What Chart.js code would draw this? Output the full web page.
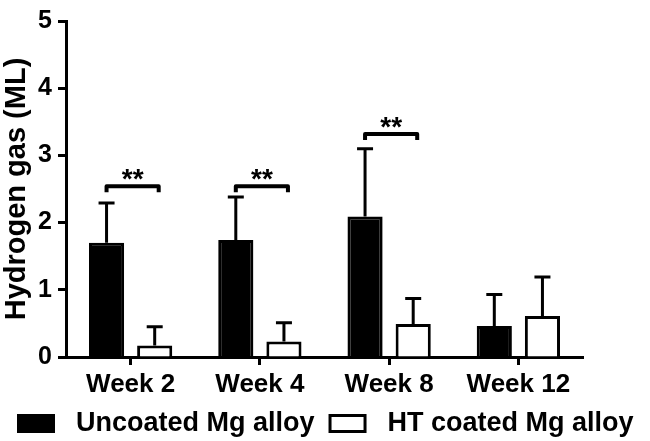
<!DOCTYPE html>
<html>
<head>
<meta charset="utf-8">
<script src="https://cdn.jsdelivr.net/npm/chart.js@4"></script>
<style>
  html, body { margin: 0; padding: 0; background: #fff; }
  #wrap { width: 650px; height: 441px; }
</style>
</head>
<body>
<div id="wrap"><canvas id="chart" width="650" height="441"></canvas></div>
<script>
// data
const weeks = ["Week 2", "Week 4", "Week 8", "Week 12"];
const uncoated = [1.70, 1.74, 2.09, 0.46];
const uncoatedSD = [0.59, 0.64, 1.01, 0.47];
const coated = [0.17, 0.23, 0.49, 0.61];
const coatedSD = [0.28, 0.28, 0.38, 0.58];
const yTicks = [0, 1, 2, 3, 4, 5];
// significance brackets: category index, height (ML), label
const sigIndex = [0, 1, 2];
const sigHeight = [2.54, 2.54, 3.32];
const sigLabel = ["**", "**", "**"];

const FONT = "'Liberation Sans', Arial, sans-serif";

// draws the SD whiskers (upper only) on top of each bar
const errorBars = {
  id: "errorBars",
  afterDatasetsDraw(chart) {
    const ctx = chart.ctx;
    const y = chart.scales.y;
    const sds = [uncoatedSD, coatedSD];
    ctx.save();
    ctx.strokeStyle = "#000";
    ctx.lineWidth = 3;
    chart.data.datasets.forEach((ds, di) => {
      const meta = chart.getDatasetMeta(di);
      meta.data.forEach((bar, i) => {
        const top = y.getPixelForValue(ds.data[i]);
        const end = y.getPixelForValue(ds.data[i] + sds[di][i]);
        ctx.beginPath();
        ctx.moveTo(bar.x, top);
        ctx.lineTo(bar.x, end);
        ctx.moveTo(bar.x - 8, end);
        ctx.lineTo(bar.x + 8, end);
        ctx.stroke();
      });
    });
    ctx.restore();
  }
};

// brackets with ** between the two bars of a week
const sigBrackets = {
  id: "sigBrackets",
  afterDatasetsDraw(chart) {
    const ctx = chart.ctx;
    const y = chart.scales.y;
    const a = chart.getDatasetMeta(0).data;
    const b = chart.getDatasetMeta(1).data;
    ctx.save();
    ctx.strokeStyle = "#000";
    ctx.lineWidth = 4;
    ctx.lineJoin = "round";
    ctx.fillStyle = "#000";
    ctx.font = "bold 28px " + FONT;
    ctx.textAlign = "center";
    ctx.textBaseline = "alphabetic";
    sigIndex.forEach((ci, k) => {
      const x1 = a[ci].x;
      const x2 = b[ci].x + 4;
      const py = y.getPixelForValue(sigHeight[k]);
      ctx.beginPath();
      ctx.moveTo(x1, py + 6);
      ctx.lineTo(x1, py);
      ctx.lineTo(x2, py);
      ctx.lineTo(x2, py + 6);
      ctx.stroke();
      ctx.fillText(sigLabel[k], (x1 + x2) / 2, py + 2);
    });
    ctx.restore();
  }
};

// legend row at the bottom
const bottomLegend = {
  id: "bottomLegend",
  afterDraw(chart) {
    const ctx = chart.ctx;
    ctx.save();
    ctx.font = "bold 27px " + FONT;
    ctx.textBaseline = "middle";
    ctx.fillStyle = "#000";
    let x = 17;
    const cy = 423;
    chart.data.datasets.forEach((ds, i) => {
      if (i > 0) x += 14;
      ctx.lineWidth = 3;
      ctx.strokeStyle = "#000";
      ctx.fillStyle = ds.backgroundColor;
      ctx.fillRect(x, cy - 9, 38, 19);
      ctx.strokeRect(x + 1.5, cy - 7.5, 35, 16);
      x += 38 + 21;
      ctx.fillStyle = "#000";
      ctx.fillText(ds.label, x, cy + 1);
      x += ctx.measureText(ds.label).width;
    });
    ctx.restore();
  }
};

new Chart(document.getElementById("chart"), {
  type: "bar",
  data: {
    labels: weeks,
    datasets: [
      {
        label: "Uncoated Mg alloy",
        data: uncoated,
        backgroundColor: "#000",
        borderColor: "#000",
        borderWidth: 3
      },
      {
        label: "HT coated Mg alloy",
        data: coated,
        backgroundColor: "#fff",
        borderColor: "#000",
        borderWidth: 3
      }
    ]
  },
  options: {
    responsive: false,
    animation: false,
    categoryPercentage: 0.745,
    barPercentage: 0.73,
    layout: { padding: { left: 0, top: 12, right: 67, bottom: 46 } },
    plugins: {
      legend: { display: false },
      tooltip: { enabled: false }
    },
    scales: {
      x: {
        grid: {
          offset: false,
          drawOnChartArea: false,
          tickLength: 8,
          tickWidth: 3,
          tickColor: "#000"
        },
        border: { display: true, width: 3, color: "#000" },
        ticks: {
          color: "#000",
          font: { family: FONT, size: 26, weight: "bold" },
          padding: 4,
          maxRotation: 0
        },
        afterFit(s) { s.height = 38; }
      },
      y: {
        min: 0,
        max: 5,
        afterBuildTicks(s) { s.ticks = yTicks.map(v => ({ value: v })); },
        grid: {
          drawOnChartArea: false,
          tickLength: 8,
          tickWidth: 3,
          tickColor: "#000"
        },
        border: { display: true, width: 3, color: "#000" },
        ticks: {
          color: "#000",
          font: { family: FONT, size: 25, weight: "bold" },
          padding: 6
        },
        title: {
          display: true,
          text: "Hydrogen gas (ML)",
          color: "#000",
          font: { family: FONT, size: 29, weight: "bold" },
          padding: 0
        },
        afterFit(s) { s.width = 66; }
      }
    }
  },
  plugins: [errorBars, sigBrackets, bottomLegend]
});
</script>
</body>
</html>
